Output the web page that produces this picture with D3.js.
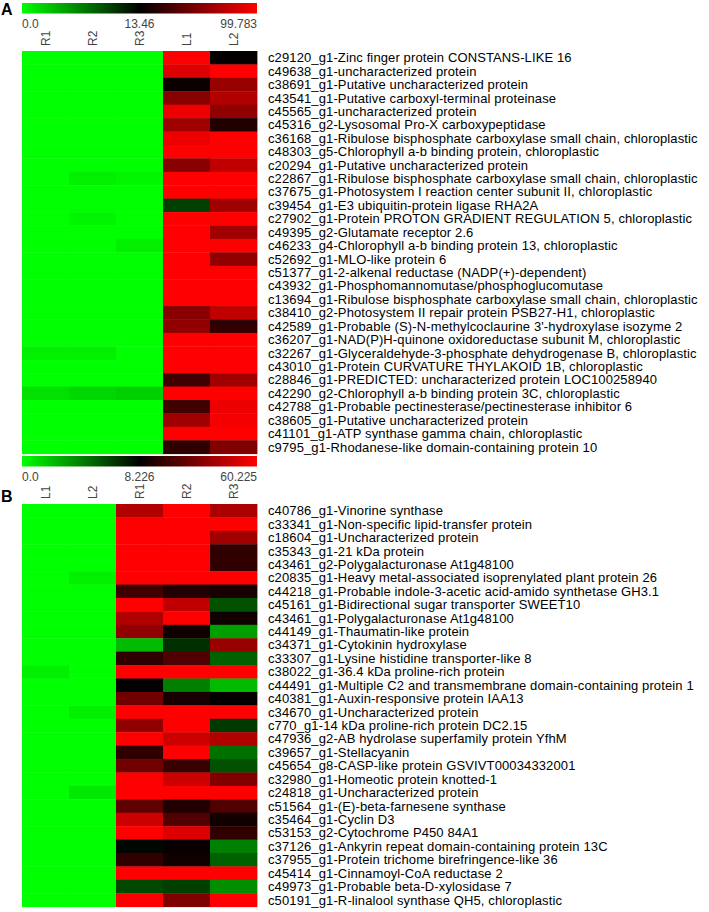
<!DOCTYPE html>
<html>
<head>
<meta charset="utf-8">
<script src="https://cdn.jsdelivr.net/npm/d3@7"></script>
<style>
  body { margin: 0; background: #fff; }
  svg { display: block; font-family: "Liberation Sans", Arial, sans-serif; }
</style>
</head>
<body>
<div class="canvas"></div>
<script>
// panel A: leaf-high genes
const colsA = ['R1', 'R2', 'R3', 'L1', 'L2']
const scaleA = [0, 13.46, 99.783]
const tickLabelsA = ['0.0', '13.46', '99.783']
const genesA = [
  'c29120_g1-Zinc finger protein CONSTANS-LIKE 16',
  'c49638_g1-uncharacterized protein',
  'c38691_g1-Putative uncharacterized protein',
  'c43541_g1-Putative carboxyl-terminal proteinase',
  'c45565_g1-uncharacterized protein',
  'c45316_g2-Lysosomal Pro-X carboxypeptidase',
  'c36168_g1-Ribulose bisphosphate carboxylase small chain, chloroplastic',
  'c48303_g5-Chlorophyll a-b binding protein, chloroplastic',
  'c20294_g1-Putative uncharacterized protein',
  'c22867_g1-Ribulose bisphosphate carboxylase small chain, chloroplastic',
  'c37675_g1-Photosystem I reaction center subunit II, chloroplastic',
  'c39454_g1-E3 ubiquitin-protein ligase RHA2A',
  'c27902_g1-Protein PROTON GRADIENT REGULATION 5, chloroplastic',
  'c49395_g2-Glutamate receptor 2.6',
  'c46233_g4-Chlorophyll a-b binding protein 13, chloroplastic',
  'c52692_g1-MLO-like protein 6',
  'c51377_g1-2-alkenal reductase (NADP(+)-dependent)',
  'c43932_g1-Phosphomannomutase/phosphoglucomutase',
  'c13694_g1-Ribulose bisphosphate carboxylase small chain, chloroplastic',
  'c38410_g2-Photosystem II repair protein PSB27-H1, chloroplastic',
  'c42589_g1-Probable (S)-N-methylcoclaurine 3\'-hydroxylase isozyme 2',
  'c36207_g1-NAD(P)H-quinone oxidoreductase subunit M, chloroplastic',
  'c32267_g1-Glyceraldehyde-3-phosphate dehydrogenase B, chloroplastic',
  'c43010_g1-Protein CURVATURE THYLAKOID 1B, chloroplastic',
  'c28846_g1-PREDICTED: uncharacterized protein LOC100258940',
  'c42290_g2-Chlorophyll a-b binding protein 3C, chloroplastic',
  'c42788_g1-Probable pectinesterase/pectinesterase inhibitor 6',
  'c38605_g1-Putative uncharacterized protein',
  'c41101_g1-ATP synthase gamma chain, chloroplastic',
  'c9795_g1-Rhodanese-like domain-containing protein 10'
]
// one row per gene, in colsA order
const valuesA = [
  [0, 0, 0, 99.8, 15.2],
  [0, 0, 0, 88.3, 99.8],
  [0, 0, 0, 16.8, 65.3],
  [0, 0, 0, 59.5, 73.0],
  [0, 0, 0, 94.0, 62.2],
  [0, 0, 0, 67.6, 24.3],
  [0, 0, 0, 94.0, 99.8],
  [0, 0, 0, 99.8, 99.8],
  [0, 0, 0, 59.5, 78.5],
  [0, 0.8, 0.4, 99.8, 99.8],
  [0, 0, 0, 99.8, 99.8],
  [0, 0, 0, 10.1, 67.6],
  [0, 0.5, 0, 99.8, 99.8],
  [0, 0, 0, 99.8, 67.6],
  [0, 0, 0.8, 99.8, 99.8],
  [0, 0, 0, 99.8, 62.2],
  [0, 0, 0, 99.8, 99.8],
  [0, 0, 0, 99.8, 99.8],
  [0, 0, 0, 99.8, 99.8],
  [0, 0, 0, 59.5, 78.5],
  [0, 0, 0, 62.2, 29.7],
  [0, 0, 0, 99.8, 99.8],
  [0.8, 0.8, 0, 99.8, 99.8],
  [0, 0, 0, 99.8, 99.8],
  [0, 0, 0, 35.1, 67.6],
  [1.6, 2.1, 2.5, 99.8, 99.8],
  [0, 0, 0, 35.1, 94.0],
  [0, 0, 0, 67.6, 96.0],
  [0, 0, 0, 99.8, 99.8],
  [0, 0, 0, 29.7, 56.8]
]

// panel B: root-high genes
const colsB = ['L1', 'L2', 'R1', 'R2', 'R3']
const scaleB = [0, 8.226, 60.225]
const tickLabelsB = ['0.0', '8.226', '60.225']
const genesB = [
  'c40786_g1-Vinorine synthase',
  'c33341_g1-Non-specific lipid-transfer protein',
  'c18604_g1-Uncharacterized protein',
  'c35343_g1-21 kDa protein',
  'c43461_g2-Polygalacturonase At1g48100',
  'c20835_g1-Heavy metal-associated isoprenylated plant protein 26',
  'c44218_g1-Probable indole-3-acetic acid-amido synthetase GH3.1',
  'c45161_g1-Bidirectional sugar transporter SWEET10',
  'c43461_g1-Polygalacturonase At1g48100',
  'c44149_g1-Thaumatin-like protein',
  'c34371_g1-Cytokinin hydroxylase',
  'c33307_g1-Lysine histidine transporter-like 8',
  'c38022_g1-36.4 kDa proline-rich protein',
  'c44491_g1-Multiple C2 and transmembrane domain-containing protein 1',
  'c40381_g1-Auxin-responsive protein IAA13',
  'c34670_g1-Uncharacterized protein',
  'c770_g1-14 kDa proline-rich protein DC2.15',
  'c47936_g2-AB hydrolase superfamily protein YfhM',
  'c39657_g1-Stellacyanin',
  'c45654_g8-CASP-like protein GSVIVT00034332001',
  'c32980_g1-Homeotic protein knotted-1',
  'c24818_g1-Uncharacterized protein',
  'c51564_g1-(E)-beta-farnesene synthase',
  'c35464_g1-Cyclin D3',
  'c53153_g2-Cytochrome P450 84A1',
  'c37126_g1-Ankyrin repeat domain-containing protein 13C',
  'c37955_g1-Protein trichome birefringence-like 36',
  'c45414_g1-Cinnamoyl-CoA reductase 2',
  'c49973_g1-Probable beta-D-xylosidase 7',
  'c50191_g1-R-linalool synthase QH5, chloroplastic'
]
const valuesB = [
  [0, 0, 44.1, 60.2, 42.9],
  [0, 0, 60.2, 60.2, 60.2],
  [0, 0, 60.2, 60.2, 40.9],
  [0, 0, 60.2, 60.2, 18.0],
  [0, 0, 60.2, 60.2, 18.0],
  [0, 0.5, 60.2, 60.2, 60.2],
  [0, 0, 21.3, 14.8, 13.1],
  [0, 0, 60.2, 47.4, 5.6],
  [0, 0, 44.1, 60.2, 11.5],
  [0, 0, 37.6, 11.5, 3.1],
  [0, 0, 2.2, 6.7, 39.4],
  [0, 0, 18.0, 24.5, 5.1],
  [0.5, 0, 60.2, 60.2, 60.2],
  [0, 0, 8.2, 4.1, 2.2],
  [0, 0, 31.1, 13.1, 9.2],
  [0, 0.5, 60.2, 60.2, 60.2],
  [0, 0, 37.6, 60.2, 6.4],
  [0, 0, 60.2, 49.8, 44.1],
  [0, 0, 18.0, 60.2, 4.6],
  [0, 0, 31.1, 19.6, 5.6],
  [0, 0, 60.2, 49.8, 34.3],
  [0, 0.7, 60.2, 60.2, 60.2],
  [0, 0, 27.8, 14.8, 24.5],
  [0, 0, 49.8, 24.5, 11.5],
  [0, 0, 60.2, 53.3, 18.0],
  [0, 0, 8.0, 9.9, 4.1],
  [0, 0, 18.0, 11.5, 5.1],
  [0, 0, 60.2, 60.2, 60.2],
  [0, 0, 5.9, 6.2, 3.6],
  [0, 0, 60.2, 34.3, 60.2]
]

const width = 709
const height = 912
const heatLeft = 22
const heatWidth = 235
const labelGap = 11

const svg = d3.select('.canvas')
  .append('svg')
  .attr('width', width)
  .attr('height', height)

// gradient used by both colour bars
const defs = svg.append('defs')
const grad = defs.append('linearGradient').attr('id', 'gr')
grad.append('stop').attr('offset', '0%').attr('stop-color', '#00ff00')
grad.append('stop').attr('offset', '50%').attr('stop-color', '#000000')
grad.append('stop').attr('offset', '100%').attr('stop-color', '#ff0000')

const drawPanel = (opt) => {
  const { letter, cols, domain, ticks, genes, values, barTop, heatTop, heatBottom, letterY } = opt

  const color = d3.scaleLinear()
    .domain(domain)
    .range(['#00ff00', '#000000', '#ff0000'])
    .clamp(true)

  const x = d3.scaleBand().domain(cols).range([heatLeft, heatLeft + heatWidth])
  const y = d3.scaleBand().domain(genes).range([heatTop, heatBottom])

  // panel letter
  svg.append('text')
    .attr('x', 1)
    .attr('y', letterY)
    .attr('font-size', 16)
    .attr('font-weight', 'bold')
    .text(letter)

  // colour bar
  svg.append('rect')
    .attr('x', heatLeft)
    .attr('y', barTop)
    .attr('width', heatWidth)
    .attr('height', 10.5)
    .attr('fill', 'url(#gr)')

  const tickPos = d3.scalePoint().domain(ticks).range([heatLeft, heatLeft + heatWidth])
  svg.append('g')
    .selectAll('text')
    .data(ticks)
    .enter()
    .append('text')
      .attr('x', d => tickPos(d))
      .attr('y', barTop + 25)
      .attr('text-anchor', (d, i) => i == 0 ? 'start' : i == ticks.length - 1 ? 'end' : 'middle')
      .attr('font-size', 12)
      .attr('fill', '#444')
      .text(d => d)

  // column labels, rotated
  svg.append('g')
    .selectAll('text')
    .data(cols)
    .enter()
    .append('text')
      .attr('transform', d => `translate(${x(d) + x.bandwidth() / 2 + 4}, ${heatTop - 5}) rotate(-90)`)
      .attr('font-size', 12)
      .attr('fill', '#444')
      .text(d => d)

  // cells
  const cells = []
  values.forEach((row, i) => row.forEach((v, j) => cells.push({ gene: genes[i], col: cols[j], v })))

  svg.append('g')
    .selectAll('rect')
    .data(cells)
    .enter()
    .append('rect')
      .attr('x', d => x(d.col))
      .attr('y', d => y(d.gene))
      .attr('width', x.bandwidth() + 0.4)
      .attr('height', y.bandwidth() + 0.4)
      .attr('fill', d => color(d.v))

  // gene labels (tightly packed, like the original)
  svg.append('g')
    .selectAll('text')
    .data(genes)
    .enter()
    .append('text')
      .attr('x', heatLeft + heatWidth + labelGap)
      .attr('y', d => y(d) + y.bandwidth() / 2)
      .attr('dy', '0.35em')
      .attr('font-size', 13)
      .attr('letter-spacing', 0.12)
      .attr('fill', '#000')
      .text(d => d)
}

drawPanel({
  letter: 'A', cols: colsA, domain: scaleA, ticks: tickLabelsA,
  genes: genesA, values: valuesA,
  barTop: 3, heatTop: 51, heatBottom: 453.7, letterY: 15
})

drawPanel({
  letter: 'B', cols: colsB, domain: scaleB, ticks: tickLabelsB,
  genes: genesB, values: valuesB,
  barTop: 456, heatTop: 504, heatBottom: 906.7, letterY: 502
})
</script>
</body>
</html>
